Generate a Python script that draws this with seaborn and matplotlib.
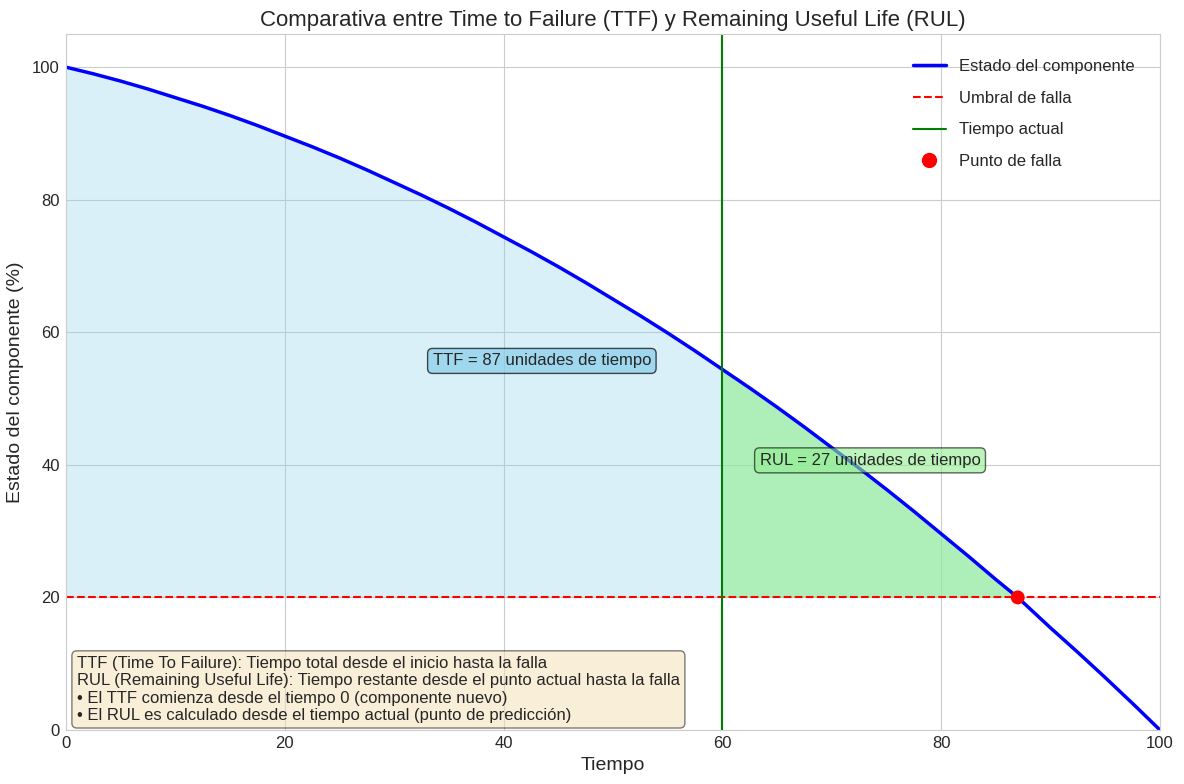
import numpy as np
from matplotlib import pyplot as plt
from matplotlib.lines import Line2D
import seaborn as sns

# valores
tiempo = [0, 2.5, 5, 7.5, 10, 12.5, 15, 17.5, 20, 22.5, 25, 27.5, 30, 32.5, 35, 37.5, 40,
          42.5, 45, 47.5, 50, 52.5, 55, 57.5, 60, 62.5, 65, 67.5, 70, 72.5, 75, 77.5, 80,
          82.5, 85, 87, 90, 92.5, 95, 97.5, 100]
estado = [100.0, 99.0, 97.9, 96.7, 95.4, 94.1, 92.7, 91.2, 89.6, 88.0, 86.3, 84.5, 82.6,
          80.7, 78.7, 76.6, 74.4, 72.2, 69.9, 67.5, 65.0, 62.5, 59.9, 57.2, 54.4, 51.6,
          48.7, 45.7, 42.6, 39.5, 36.3, 33.0, 29.6, 26.2, 22.7, 20.0, 15.4, 11.7, 7.9,
          4.0, 0.0]
umbral = 20
tiempo_actual = 60
ttf = 87
rul = 27

sns.set_style("whitegrid")
plt.rcParams['font.family'] = ['Liberation Sans', 'DejaVu Sans']

t = np.array(tiempo)
y = np.array(estado)

fig, ax = plt.subplots(figsize=(11.84, 7.84), dpi=100)

ax.fill_between(t, y, umbral, where=(t <= ttf), color="skyblue", alpha=0.3, linewidth=0)
ax.fill_between(t, y, umbral, where=(t >= tiempo_actual) & (t <= ttf), color="lightgreen", alpha=0.6, linewidth=0)

sns.lineplot(x=tiempo, y=estado, ax=ax, color="blue", linewidth=2.5, legend=False)
ax.axhline(umbral, color="red", linestyle="--", linewidth=1.5)
ax.axvline(tiempo_actual, color="green", linewidth=1.5)
sns.scatterplot(x=[ttf], y=[umbral], ax=ax, color="red", s=100, zorder=5, edgecolor="none", legend=False)

ax.text(ttf / 2, 55, f"TTF = {ttf} unidades de tiempo", fontsize=12, ha="center",
        bbox=dict(boxstyle="round", facecolor="skyblue", edgecolor="black", alpha=0.7))
ax.text(tiempo_actual + rul / 2, 40, f"RUL = {rul} unidades de tiempo", fontsize=12, ha="center",
        bbox=dict(boxstyle="round", facecolor="lightgreen", edgecolor="black", alpha=0.6))

nota = ("TTF (Time To Failure): Tiempo total desde el inicio hasta la falla\n"
        "RUL (Remaining Useful Life): Tiempo restante desde el punto actual hasta la falla\n"
        "• El TTF comienza desde el tiempo 0 (componente nuevo)\n"
        "• El RUL es calculado desde el tiempo actual (punto de predicción)")
ax.text(0.01, 0.01, nota, transform=ax.transAxes, fontsize=12, va="bottom", ha="left",
        bbox=dict(boxstyle="round", facecolor="wheat", edgecolor="black", alpha=0.5))

handles = [
    Line2D([], [], color="blue", linewidth=2.5),
    Line2D([], [], color="red", linestyle="--", linewidth=1.5),
    Line2D([], [], color="green", linewidth=1.5),
    Line2D([], [], color="red", marker="o", linestyle="none", markersize=10),
]
labels = ["Estado del componente", "Umbral de falla", "Tiempo actual", "Punto de falla"]
ax.legend(handles, labels, loc="upper right", fontsize=12, labelspacing=1.0,
          borderaxespad=1.1, frameon=False)

ax.set_xlim(0, 100)
ax.set_ylim(0, 105)
ax.set_title("Comparativa entre Time to Failure (TTF) y Remaining Useful Life (RUL)", fontsize=16)
ax.set_xlabel("Tiempo", fontsize=14, labelpad=4)
ax.set_ylabel("Estado del componente (%)", fontsize=14, labelpad=6)
ax.tick_params(axis='x', labelsize=12, length=0, pad=4.5)
ax.tick_params(axis='y', labelsize=12, length=0, pad=4.5)

fig.subplots_adjust(left=0.0557, right=0.9797, bottom=0.0689, top=0.9566)
fig.savefig("out.png", dpi=100)
